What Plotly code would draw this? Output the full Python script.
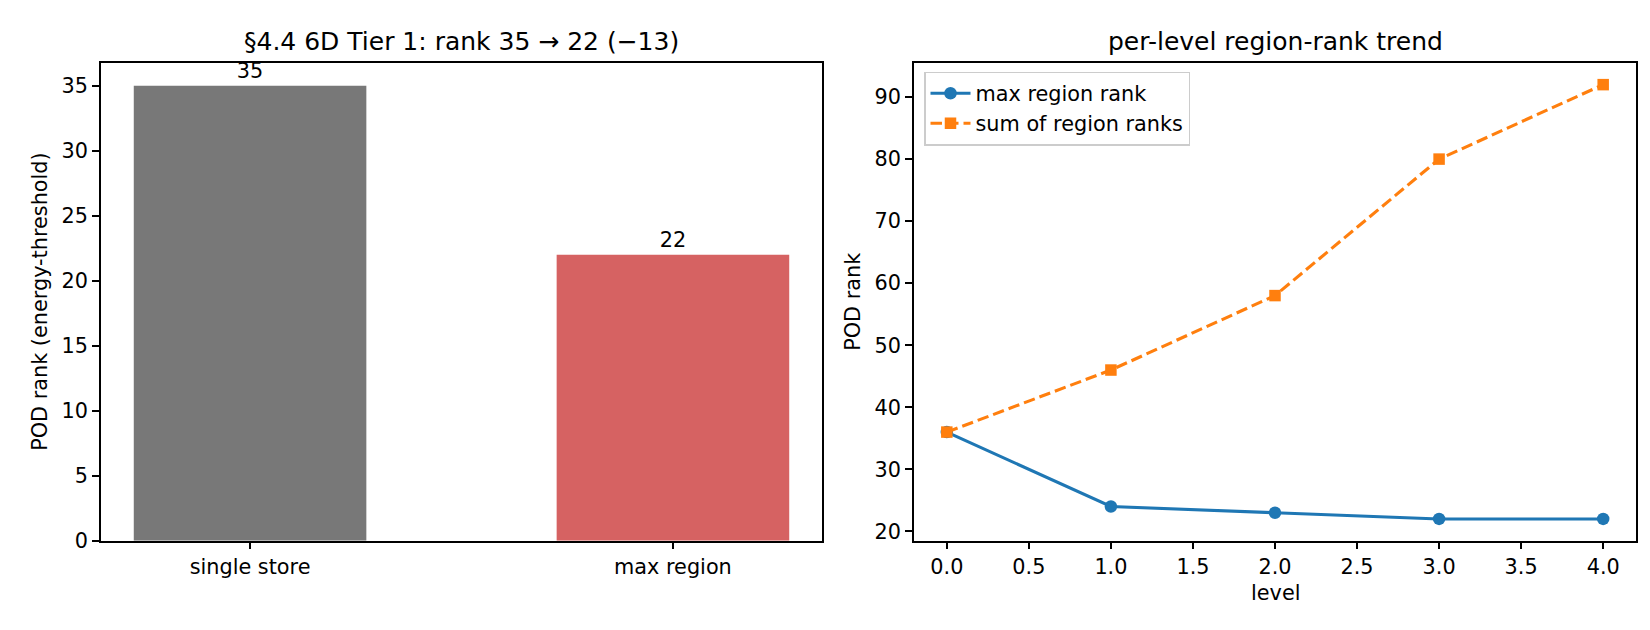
import plotly.graph_objects as go

bar_categories = ["single store", "max region"]
bar_values = [35, 22]
bar_colors = ["#787878", "#d66262"]

levels = [0, 1, 2, 3, 4]
max_region_rank = [36, 24, 23, 22, 22]
sum_region_ranks = [36, 46, 58, 80, 92]

left_title = "§4.4 6D Tier 1: rank 35 → 22 (−13)"
right_title = "per-level region-rank trend"

FONT = "DejaVu Sans"
TICK = 20.8
W, H = 1650, 630

fig = go.Figure()

fig.add_trace(go.Bar(
    x=[0, 1], y=bar_values, width=0.55,
    marker=dict(color=bar_colors, line=dict(width=0)),
    text=[str(v) for v in bar_values], textposition="outside",
    textfont=dict(family=FONT, size=TICK, color="black"),
    cliponaxis=False, showlegend=False, xaxis="x", yaxis="y",
))

fig.add_trace(go.Scatter(
    x=levels, y=max_region_rank, mode="lines+markers", name="max region rank",
    line=dict(color="#1f77b4", width=3.1),
    marker=dict(symbol="circle", size=12.5, color="#1f77b4"),
    xaxis="x2", yaxis="y2", cliponaxis=False,
))
fig.add_trace(go.Scatter(
    x=levels, y=sum_region_ranks, mode="lines+markers", name="sum of region ranks",
    line=dict(color="#ff7f0e", width=3.1, dash="11.5px,5px"),
    marker=dict(symbol="square", size=11.5, color="#ff7f0e"),
    xaxis="x2", yaxis="y2", cliponaxis=False,
))

ax_common = dict(
    showline=True, linecolor="black", linewidth=1.67, mirror=True,
    ticks="outside", ticklen=7, tickwidth=1.67, tickcolor="black",
    showgrid=False, zeroline=False,
    tickfont=dict(family=FONT, size=TICK, color="black"),
)

yb0 = 87 / H
yb1 = 574 / H

fig.update_layout(
    width=W, height=H,
    margin=dict(l=0, r=0, t=0, b=0),
    paper_bgcolor="white", plot_bgcolor="white",
    font=dict(family=FONT, size=TICK, color="black"),
    xaxis=dict(domain=[93 / W, 814 / W], range=[-0.3525, 1.3525],
               tickmode="array", tickvals=[0, 1], ticktext=bar_categories,
               anchor="y", **ax_common),
    yaxis=dict(domain=[yb0, yb1], range=[0, 36.75],
               tickmode="array", tickvals=[0, 5, 10, 15, 20, 25, 30, 35],
               anchor="x", **ax_common),
    xaxis2=dict(domain=[906 / W, 1628 / W], range=[-0.2, 4.2],
                tickmode="array", tickvals=[0, 0.5, 1, 1.5, 2, 2.5, 3, 3.5, 4],
                ticktext=["0.0", "0.5", "1.0", "1.5", "2.0", "2.5", "3.0", "3.5", "4.0"],
                anchor="y2", **ax_common),
    yaxis2=dict(domain=[yb0, yb1], range=[18.5, 95.5],
                tickmode="array", tickvals=[20, 30, 40, 50, 60, 70, 80, 90],
                anchor="x2", **ax_common),
    legend=dict(
        x=916 / W, y=1 - 65 / H, xanchor="left", yanchor="top",
        bgcolor="rgba(255,255,255,0.8)", bordercolor="#cccccc", borderwidth=1.5,
        font=dict(family=FONT, size=TICK, color="black"),
        tracegroupgap=0, itemwidth=40,
    ),
    annotations=[
        dict(text=left_title, x=(93 + 814) / 2 / W, y=1 - 34 / H, xref="paper", yref="paper",
             xanchor="center", yanchor="middle", showarrow=False,
             font=dict(family=FONT, size=25, color="black")),
        dict(text=right_title, x=(906 + 1628) / 2 / W, y=1 - 34 / H, xref="paper", yref="paper",
             xanchor="center", yanchor="middle", showarrow=False,
             font=dict(family=FONT, size=25, color="black")),
        dict(text="POD rank (energy-threshold)", x=32 / W, y=(yb0 + yb1) / 2,
             xref="paper", yref="paper", xanchor="center", yanchor="middle",
             textangle=-90, showarrow=False, font=dict(family=FONT, size=TICK, color="black")),
        dict(text="POD rank", x=845 / W, y=(yb0 + yb1) / 2,
             xref="paper", yref="paper", xanchor="center", yanchor="middle",
             textangle=-90, showarrow=False, font=dict(family=FONT, size=TICK, color="black")),
        dict(text="level", x=(906 + 1628) / 2 / W, y=1 - 596 / H,
             xref="paper", yref="paper", xanchor="center", yanchor="middle",
             showarrow=False, font=dict(family=FONT, size=TICK, color="black")),
    ],
)

fig.write_html("out.html")
